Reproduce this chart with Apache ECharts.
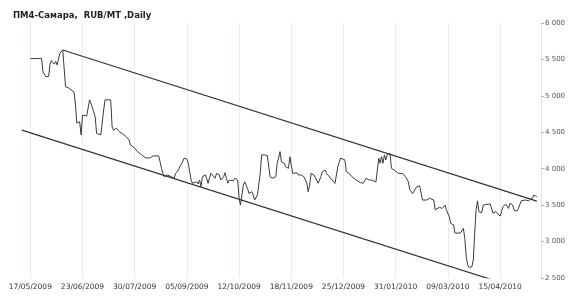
<!DOCTYPE html>
<html>
<head>
<meta charset="utf-8">
<script src="https://cdn.jsdelivr.net/npm/echarts@6/dist/echarts.min.js"></script>
<style>html,body{margin:0;padding:0;background:#fff}#c{width:570px;height:301px}</style>
</head>
<body>
<div id="c"></div>
<script>
// Tick labels on the time axis (every 37 days)
const tickLabels = ['17/05/2009','23/06/2009','30/07/2009','05/09/2009','12/10/2009','18/11/2009','25/12/2009','31/01/2010','09/03/2010','15/04/2010'];
const axisStart = '2009-05-09';
const axisEnd = '2010-05-14';
const yTicks = { min: 2500, max: 6000, step: 500 };

// Price series (RUB/MT)
const dates = [
'2009-05-17','2009-05-25','2009-05-26','2009-05-28','2009-05-29','2009-05-30','2009-05-31','2009-06-01','2009-06-03','2009-06-04',
'2009-06-05','2009-06-06','2009-06-07','2009-06-09','2009-06-10','2009-06-11','2009-06-13','2009-06-15','2009-06-17','2009-06-18',
'2009-06-19','2009-06-20','2009-06-21','2009-06-22','2009-06-23','2009-06-24','2009-06-26','2009-06-28','2009-06-29','2009-06-30',
'2009-07-02','2009-07-03','2009-07-04','2009-07-06','2009-07-08','2009-07-09','2009-07-13','2009-07-14','2009-07-15','2009-07-17',
'2009-07-19','2009-07-20','2009-07-21','2009-07-22','2009-07-24','2009-07-26','2009-07-27','2009-07-29','2009-07-30','2009-08-01',
'2009-08-02','2009-08-04','2009-08-05','2009-08-07','2009-08-10','2009-08-12','2009-08-14','2009-08-16','2009-08-17','2009-08-18',
'2009-08-19','2009-08-20','2009-08-22','2009-08-23','2009-08-25','2009-08-27','2009-08-28','2009-08-30','2009-08-31','2009-09-02',
'2009-09-03','2009-09-05','2009-09-06','2009-09-07','2009-09-08','2009-09-09','2009-09-10','2009-09-12','2009-09-13','2009-09-14',
'2009-09-15','2009-09-16','2009-09-18','2009-09-19','2009-09-20','2009-09-21','2009-09-22','2009-09-23','2009-09-25','2009-09-26',
'2009-09-27','2009-09-28','2009-09-29','2009-10-01','2009-10-02','2009-10-03','2009-10-04','2009-10-05','2009-10-06','2009-10-08',
'2009-10-09','2009-10-10','2009-10-11','2009-10-12','2009-10-13','2009-10-14','2009-10-15','2009-10-16','2009-10-17','2009-10-18',
'2009-10-19','2009-10-21','2009-10-22','2009-10-23','2009-10-24','2009-10-25','2009-10-27','2009-10-28','2009-10-30','2009-11-01',
'2009-11-02','2009-11-03','2009-11-04','2009-11-05','2009-11-07','2009-11-08','2009-11-09','2009-11-10','2009-11-11','2009-11-12',
'2009-11-13','2009-11-14','2009-11-16','2009-11-17','2009-11-18','2009-11-19','2009-11-20','2009-11-22','2009-11-23','2009-11-24',
'2009-11-25','2009-11-26','2009-11-27','2009-11-29','2009-11-30','2009-12-01','2009-12-02','2009-12-03','2009-12-04','2009-12-06',
'2009-12-07','2009-12-08','2009-12-09','2009-12-10','2009-12-12','2009-12-13','2009-12-14','2009-12-15','2009-12-16','2009-12-17',
'2009-12-19','2009-12-20','2009-12-21','2009-12-23','2009-12-24','2009-12-26','2009-12-27','2009-12-28','2009-12-29','2009-12-31',
'2010-01-01','2010-01-03','2010-01-04','2010-01-06','2010-01-08','2010-01-09','2010-01-10','2010-01-12','2010-01-14','2010-01-15',
'2010-01-17','2010-01-18','2010-01-19','2010-01-20','2010-01-21','2010-01-22','2010-01-23','2010-01-24','2010-01-25','2010-01-27',
'2010-01-28','2010-01-29','2010-01-30','2010-01-31','2010-02-02','2010-02-03','2010-02-05','2010-02-07','2010-02-09','2010-02-10',
'2010-02-11','2010-02-12','2010-02-13','2010-02-15','2010-02-17','2010-02-18','2010-02-19','2010-02-20','2010-02-22','2010-02-24',
'2010-02-25','2010-02-27','2010-02-28','2010-03-01','2010-03-03','2010-03-05','2010-03-07','2010-03-08','2010-03-10','2010-03-11',
'2010-03-12','2010-03-13','2010-03-14','2010-03-16','2010-03-18','2010-03-19','2010-03-20','2010-03-21','2010-03-22','2010-03-23',
'2010-03-24','2010-03-26','2010-03-27','2010-03-28','2010-03-29','2010-03-30','2010-03-31','2010-04-01','2010-04-02','2010-04-03',
'2010-04-05','2010-04-06','2010-04-08','2010-04-09','2010-04-10','2010-04-12','2010-04-13','2010-04-15','2010-04-16','2010-04-17',
'2010-04-18','2010-04-19','2010-04-21','2010-04-22','2010-04-23','2010-04-24','2010-04-25','2010-04-27','2010-04-28','2010-04-30',
'2010-05-01','2010-05-03','2010-05-05','2010-05-06','2010-05-08','2010-05-09','2010-05-10','2010-05-11'
];
const prices = [
5510,5515,5330,5265,5240,5265,5435,5485,5435,5470,
5425,5445,5585,5630,5615,5125,5110,5080,5055,4875,
4625,4600,4645,4465,4735,4715,4725,4945,4900,4920,
4715,4485,4465,4465,4805,4945,4945,4575,4530,4555,
4510,4530,4485,4465,4440,4395,4325,4300,4280,4235,
4235,4190,4165,4145,4150,4175,4175,4175,4095,4005,
3935,3890,3915,3900,3890,3870,3935,3980,4030,4095,
4145,4130,4075,3960,3845,3800,3810,3820,3790,3845,
3755,3890,3915,3870,3800,3870,3935,3915,3870,3935,
3960,3915,3845,3890,3945,3870,3800,3845,3855,3835,
3870,3890,3845,3595,3500,3525,3775,3820,3810,3730,
3660,3685,3640,3570,3545,3640,3935,4190,4190,4180,
4165,3890,3870,3870,3890,4075,4145,4235,4095,4095,
4075,4030,4005,4165,4050,3935,3915,3945,3915,3935,
3915,3915,3890,3800,3685,3775,3935,3935,3915,3845,
3800,3845,3890,3960,3980,3935,3960,3890,3915,3845,
3800,3915,4030,4145,4165,4120,3960,3980,3935,3890,
3870,3845,3835,3810,3800,3820,3870,3845,3845,3820,
3820,3980,4145,4075,4165,4075,4190,4120,4190,4210,
4005,4030,3980,4005,3935,3915,3935,3890,3820,3710,
3710,3660,3685,3755,3765,3755,3570,3545,3570,3595,
3570,3570,3435,3455,3470,3455,3500,3435,3340,3250,
3250,3230,3120,3115,3120,3135,3180,3045,2790,2680,
2645,2655,2745,3115,3435,3560,3410,3395,3395,3500,
3510,3500,3515,3500,3390,3410,3390,3350,3410,3480,
3500,3515,3455,3525,3535,3500,3425,3420,3455,3560,
3570,3570,3560,3560,3595,3640,3615,3615
];

// Trend channel lines (start / end)
const upperDates = ['2009-06-09','2010-05-11'];
const upperValues = [5630, 3555];
const lowerDates = ['2009-05-11','2010-05-11'];
const lowerValues = [4530, 2280];

// ---- build category days ----
function fmtISO(d){ return d.toISOString().slice(0,10); }
const categories = [];
for (let t = Date.parse(axisStart+'T00:00:00Z'); t <= Date.parse(axisEnd+'T00:00:00Z'); t += 86400000) {
  categories.push(fmtISO(new Date(t)));
}
function toDMY(s){ const p = s.split('-'); return p[2]+'/'+p[1]+'/'+p[0]; }
const tickSet = new Set(tickLabels);
const isTick = (i, v) => tickSet.has(toDMY(v));
const zip = (a, b) => a.map((d, i) => [d, b[i]]);

const FONT = 'DejaVu Sans';
const chart = echarts.init(document.getElementById('c'), null, {renderer: 'canvas'});
chart.setOption({
  backgroundColor: '#fff',
  animation: false,
  title: {
    text: 'ПМ4-Самара,  RUB/MT ,Daily',
    left: 8, top: 6,
    textStyle: { fontFamily: FONT, fontSize: 8.5, fontWeight: 'bold', color: '#222' }
  },
  grid: { left: 19, right: 29, top: 23, bottom: 23, containLabel: false },
  xAxis: {
    type: 'category',
    data: categories,
    boundaryGap: false,
    axisLine: { show: false },
    axisTick: { show: false },
    splitLine: { show: true, interval: isTick, lineStyle: { color: '#e3edf7', width: 1 } },
    axisLabel: {
      interval: isTick,
      formatter: v => toDMY(v),
      fontFamily: FONT, fontSize: 7.5, color: '#333', margin: 5
    }
  },
  yAxis: {
    type: 'value',
    position: 'right',
    min: yTicks.min, max: yTicks.max, interval: yTicks.step,
    axisLine: { show: true, lineStyle: { color: '#d3e2f1', width: 1 } },
    axisTick: { show: true, length: 3, lineStyle: { color: '#aab8c6' } },
    splitLine: { show: false },
    axisLabel: {
      margin: 4,
      formatter: v => String(v).replace(/\B(?=(\d{3})+$)/g, ' '),
      fontFamily: FONT, fontSize: 7, color: '#555'
    }
  },
  series: [
    {
      type: 'line', name: 'price', data: zip(dates, prices),
      symbol: 'none', smooth: false,
      lineStyle: { color: '#3c3c3c', width: 1 }
    },
    {
      type: 'line', name: 'upper', data: zip(upperDates, upperValues),
      symbol: 'none', lineStyle: { color: '#333', width: 1.2 }
    },
    {
      type: 'line', name: 'lower', data: zip(lowerDates, lowerValues),
      symbol: 'none', lineStyle: { color: '#333', width: 1.2 }
    }
  ]
});
</script>
</body>
</html>
